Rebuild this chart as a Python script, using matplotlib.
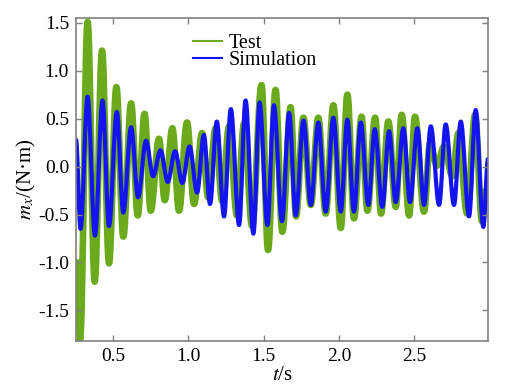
import numpy as np
import matplotlib
matplotlib.use("Agg")
import matplotlib.pyplot as plt
from matplotlib.path import Path
from matplotlib.patches import PathPatch
from matplotlib.lines import Line2D

plt.rcParams['font.family'] = ['Liberation Serif', 'DejaVu Serif']
plt.rcParams['mathtext.fontset'] = 'stix'
plt.rcParams['axes.unicode_minus'] = False

# ---------- peaks and troughs ----------
t_test = [0.261, 0.281, 0.331, 0.378, 0.427, 0.473, 0.522, 0.568, 0.620, 0.664,
          0.709, 0.750, 0.805, 0.843, 0.894, 0.938, 0.991, 1.038, 1.091, 1.131,
          1.181, 1.224, 1.270, 1.323, 1.370, 1.423, 1.486, 1.529, 1.579, 1.624,
          1.679, 1.715, 1.764, 1.813, 1.863, 1.912, 1.963, 2.012, 2.056, 2.100,
          2.150, 2.189, 2.240, 2.280, 2.328, 2.377, 2.417, 2.466, 2.505, 2.565,
          2.605, 2.651, 2.698, 2.753, 2.794, 2.851, 2.904, 2.950, 2.977]
m_test = [-1.00, -1.80, 1.51, -1.20, 1.21, -1.01, 0.83, -0.73, 0.66, -0.51,
          0.55, -0.46, 0.29, -0.35, 0.40, -0.46, 0.46, -0.39, 0.35, -0.32,
          0.40, -0.36, 0.42, -0.51, 0.45, -0.62, 0.85, -0.87, 0.80, -0.68,
          0.62, -0.52, 0.51, -0.40, 0.51, -0.49, 0.64, -0.64, 0.75, -0.54,
          0.52, -0.46, 0.51, -0.49, 0.47, -0.42, 0.54, -0.51, 0.52, -0.47,
          0.24, 0.01, 0.21, -0.10, 0.35, -0.49, 0.54, -0.57, -0.25]

t_sim = [0.254, 0.284, 0.331, 0.380, 0.430, 0.473, 0.525, 0.568, 0.620, 0.666,
         0.719, 0.766, 0.815, 0.863, 0.912, 0.960, 1.008, 1.058, 1.103, 1.144,
         1.189, 1.237, 1.282, 1.337, 1.380, 1.432, 1.473, 1.525, 1.568, 1.622,
         1.669, 1.713, 1.765, 1.813, 1.863, 1.912, 1.963, 2.012, 2.056, 2.100,
         2.145, 2.195, 2.238, 2.288, 2.333, 2.377, 2.428, 2.472, 2.521, 2.565,
         2.610, 2.665, 2.709, 2.764, 2.809, 2.864, 2.908, 2.959, 2.990]
m_sim = [0.28, -0.65, 0.73, -0.72, 0.69, -0.62, 0.57, -0.48, 0.41, -0.32,
         0.27, -0.10, 0.17, -0.16, 0.16, -0.17, 0.21, -0.27, 0.33, -0.39,
         0.47, -0.52, 0.60, -0.61, 0.69, -0.70, 0.67, -0.61, 0.64, -0.57,
         0.56, -0.51, 0.48, -0.40, 0.46, -0.47, 0.51, -0.47, 0.49, -0.47,
         0.46, -0.40, 0.39, -0.42, 0.37, -0.37, 0.40, -0.37, 0.40, -0.40,
         0.42, -0.40, 0.44, -0.40, 0.47, -0.52, 0.59, -0.63, 0.08]

x_ticks = [0.5, 1.0, 1.5, 2.0, 2.5]
y_ticks = [-1.5, -1.0, -0.5, 0.0, 0.5, 1.0, 1.5]


def smooth_path(t, m, k=0.36):
    # bezier segments with flat tangents at each peak / trough
    verts = [(t[0], m[0])]
    codes = [Path.MOVETO]
    for i in range(1, len(t)):
        dt = t[i] - t[i - 1]
        verts += [(t[i - 1] + k * dt, m[i - 1]), (t[i] - k * dt, m[i]), (t[i], m[i])]
        codes += [Path.CURVE4] * 3
    return Path(verts, codes)


fig = plt.figure(figsize=(5.15, 3.92), dpi=100)
ax = fig.add_axes([0.1476, 0.130, 0.800, 0.824])

ax.add_patch(PathPatch(smooth_path(t_test, m_test), fill=False, ec='#6aaa1c', lw=4.8,
                       joinstyle='round', capstyle='round'))
ax.add_patch(PathPatch(smooth_path(t_sim, m_sim), fill=False, ec='#1414f0', lw=3.0,
                       joinstyle='round', capstyle='round'))

ax.set_xlim(0.254, 2.99)
ax.set_ylim(-1.82, 1.55)
ax.set_xticks(x_ticks)
ax.set_xticklabels([f"{v:.1f}" for v in x_ticks])
ax.set_yticks(y_ticks)
ax.set_yticklabels([f"{v:.1f}" for v in y_ticks])
ax.tick_params(direction='in', top=True, right=True, length=4, width=1,
               color='#808080', labelsize=14, pad=5)
for s in ax.spines.values():
    s.set_color('#808080')
    s.set_linewidth(1.2)

ax.set_xlabel('$t$/s', fontsize=15, labelpad=1)
ax.set_ylabel('$m_x$/(N·m)', fontsize=15, labelpad=0)

handles = [Line2D([], [], color='#6aaa1c', lw=1.5),
           Line2D([], [], color='#1414f0', lw=1.5)]
ax.legend(handles, ['Test', 'Simulation'], loc='upper left',
          bbox_to_anchor=(0.24, 1.008), frameon=False, fontsize=14.5,
          handlelength=1.45, handletextpad=0.3, labelspacing=-0.1)

fig.savefig('out.png', dpi=100)
